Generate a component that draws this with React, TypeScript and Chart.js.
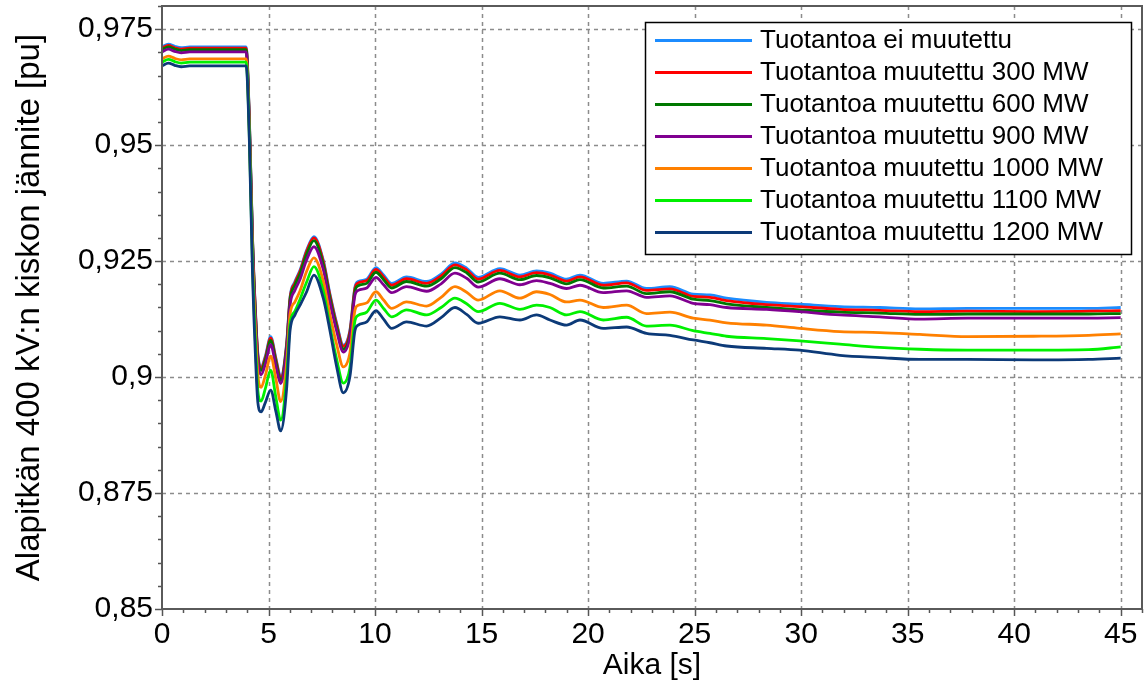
import React, { useEffect, useRef } from 'react';
import { Chart, registerables } from 'chart.js';

Chart.register(...registerables);

// Simulation time [s]
const TIME = [
  0, 0.3, 0.6, 0.9, 1.3, 2.0, 3.0, 3.95,
  4.1, 4.25, 4.4, 4.5, 4.65, 4.85, 5.1, 5.35,
  5.57, 5.85, 6.01, 6.24, 6.48, 6.79, 7.13, 7.57,
  7.88, 8.2, 8.51, 8.82, 9.06, 9.21, 9.61, 10.04,
  10.4, 10.78, 11.48, 12.42, 13.1, 13.75, 14.3, 14.84,
  15.86, 16.8, 17.58, 18.21, 18.99, 19.62, 20.71, 21.81,
  22.74, 23.84, 24.93, 25.72, 26.5, 28.38, 29.94, 31.82,
  33.69, 35.57, 37.8, 40.9, 43.5, 45,
];

// Bus voltage [pu] per production case
const V_UNCHANGED = [
  0.9712, 0.9718, 0.9713, 0.9710, 0.9712, 0.9712, 0.9712, 0.9712,
  0.956, 0.930, 0.913, 0.905, 0.9022, 0.9045, 0.9087, 0.9040,
  0.9001, 0.9073, 0.9173, 0.9206, 0.9231, 0.9274, 0.9303, 0.9252,
  0.9180, 0.9116, 0.9069, 0.9101, 0.9195, 0.9206, 0.9211, 0.9236,
  0.9220, 0.9202, 0.9216, 0.9206, 0.9222, 0.9246, 0.9235, 0.9215,
  0.9234, 0.9220, 0.9229, 0.9224, 0.9211, 0.9220, 0.9202, 0.9207,
  0.9191, 0.9195, 0.9179, 0.9177, 0.9170, 0.9161, 0.9157, 0.9152,
  0.9150, 0.9147, 0.9148, 0.9148, 0.9148, 0.9150,
];
const V_300 = [
  0.9709, 0.9715, 0.9710, 0.9707, 0.9709, 0.9709, 0.9709, 0.9709,
  0.9557, 0.9297, 0.9127, 0.9047, 0.9019, 0.9042, 0.9084, 0.9037,
  0.8998, 0.9070, 0.9170, 0.9203, 0.9228, 0.9271, 0.9300, 0.9249,
  0.9177, 0.9113, 0.9066, 0.9098, 0.9192, 0.9203, 0.9208, 0.9232,
  0.9216, 0.9198, 0.9212, 0.9202, 0.9218, 0.9242, 0.9231, 0.9211,
  0.9230, 0.9216, 0.9225, 0.9220, 0.9207, 0.9216, 0.9198, 0.9203,
  0.9187, 0.9190, 0.9174, 0.9172, 0.9165, 0.9156, 0.9152, 0.9146,
  0.9144, 0.9141, 0.9142, 0.9141, 0.9142, 0.9143,
];
const V_600 = [
  0.9706, 0.9712, 0.9707, 0.9704, 0.9706, 0.9706, 0.9706, 0.9706,
  0.9553, 0.9293, 0.9122, 0.9042, 0.9014, 0.9037, 0.9079, 0.9032,
  0.8993, 0.9065, 0.9165, 0.9198, 0.9223, 0.9265, 0.9294, 0.9243,
  0.9171, 0.9107, 0.9060, 0.9092, 0.9186, 0.9197, 0.9202, 0.9226,
  0.9210, 0.9192, 0.9206, 0.9196, 0.9212, 0.9236, 0.9225, 0.9205,
  0.9224, 0.9210, 0.9219, 0.9214, 0.9201, 0.9210, 0.9192, 0.9196,
  0.9180, 0.9184, 0.9168, 0.9165, 0.9158, 0.9150, 0.9145, 0.9140,
  0.9138, 0.9135, 0.9136, 0.9136, 0.9136, 0.9137,
];
const V_900 = [
  0.9701, 0.9707, 0.9702, 0.9699, 0.9701, 0.9701, 0.9701, 0.9701,
  0.9545, 0.9285, 0.9115, 0.9035, 0.9005, 0.9028, 0.9070, 0.9023,
  0.8986, 0.9058, 0.9155, 0.9187, 0.9211, 0.9253, 0.9281, 0.9232,
  0.9162, 0.9099, 0.9054, 0.9086, 0.9177, 0.9187, 0.9192, 0.9215,
  0.9199, 0.9182, 0.9195, 0.9185, 0.9201, 0.9224, 0.9213, 0.9194,
  0.9212, 0.9199, 0.9208, 0.9202, 0.9191, 0.9198, 0.9182, 0.9186,
  0.9172, 0.9175, 0.9159, 0.9156, 0.9150, 0.9146, 0.9141, 0.9134,
  0.9130, 0.9125, 0.9127, 0.9127, 0.9127, 0.9128,
];
const V_1000 = [
  0.9686, 0.9692, 0.9687, 0.9684, 0.9686, 0.9686, 0.9686, 0.9686,
  0.9530, 0.9260, 0.9090, 0.9005, 0.8978, 0.9003, 0.9045, 0.8995,
  0.8947, 0.9030, 0.9135, 0.9162, 0.9186, 0.9228, 0.9257, 0.9207,
  0.9135, 0.9070, 0.9022, 0.9052, 0.9145, 0.9155, 0.9160, 0.9184,
  0.9166, 0.9148, 0.9162, 0.9153, 0.9172, 0.9195, 0.9183, 0.9166,
  0.9186, 0.9170, 0.9184, 0.9178, 0.9162, 0.9166, 0.9150, 0.9155,
  0.9137, 0.9140, 0.9127, 0.9123, 0.9117, 0.9112, 0.9105, 0.9098,
  0.9096, 0.9092, 0.9087, 0.9088, 0.9090, 0.9093,
];
const V_1100 = [
  0.9679, 0.9685, 0.9680, 0.9677, 0.9679, 0.9679, 0.9679, 0.9679,
  0.9520, 0.9240, 0.9060, 0.8970, 0.8948, 0.8975, 0.9015, 0.8955,
  0.8907, 0.9000, 0.9115, 0.9142, 0.9168, 0.9205, 0.9238, 0.9186,
  0.9110, 0.9038, 0.8987, 0.9020, 0.9122, 0.9133, 0.9140, 0.9166,
  0.9148, 0.9130, 0.9145, 0.9134, 0.9150, 0.9170, 0.9158, 0.9141,
  0.9159, 0.9146, 0.9155, 0.9150, 0.9134, 0.9141, 0.9123, 0.9129,
  0.9110, 0.9112, 0.9100, 0.9094, 0.9088, 0.9083, 0.9078, 0.9071,
  0.9064, 0.9060, 0.9058, 0.9058, 0.9059, 0.9065,
];
const V_1200 = [
  0.9671, 0.9677, 0.9672, 0.9669, 0.9671, 0.9671, 0.9671, 0.9671,
  0.9510, 0.9220, 0.9030, 0.8945, 0.8925, 0.8945, 0.8972, 0.8925,
  0.8884, 0.8975, 0.9100, 0.9134, 0.9155, 0.9184, 0.9220, 0.9170,
  0.9101, 0.9022, 0.8966, 0.9001, 0.9101, 0.9112, 0.9119, 0.9143,
  0.9125, 0.9105, 0.9119, 0.9110, 0.9128, 0.9150, 0.9135, 0.9116,
  0.9130, 0.9123, 0.9134, 0.9123, 0.9112, 0.9123, 0.9105, 0.9108,
  0.9094, 0.9090, 0.9080, 0.9074, 0.9067, 0.9062, 0.9058, 0.9047,
  0.9042, 0.9038, 0.9038, 0.9037, 0.9038, 0.9041,
];

const SERIES_LABELS = [
  'Tuotantoa ei muutettu',
  'Tuotantoa muutettu 300 MW',
  'Tuotantoa muutettu 600 MW',
  'Tuotantoa muutettu 900 MW',
  'Tuotantoa muutettu 1000 MW',
  'Tuotantoa muutettu 1100 MW',
  'Tuotantoa muutettu 1200 MW',
];
const SERIES_VALUES = [V_UNCHANGED, V_300, V_600, V_900, V_1000, V_1100, V_1200];
const SERIES_COLORS = ['#1c8cff', '#ff0000', '#007800', '#800090', '#ff8000', '#00f000', '#0c3a78'];

const X_TICKS = [0, 5, 10, 15, 20, 25, 30, 35, 40, 45];
const Y_TICKS = [0.85, 0.875, 0.9, 0.925, 0.95, 0.975];
const X_MIN = 0;
const X_MAX = 46;
const Y_MIN = 0.85;
const Y_MAX = 0.98;
const X_MINOR_STEP = 1;
const Y_MINOR_STEP = 0.005;

const X_TITLE = 'Aika [s]';
const Y_TITLE = 'Alapitkän 400 kV:n kiskon jännite [pu]';

const FONT = '"Liberation Sans", Arial, sans-serif';

const axesPlugin = {
  id: 'axesDecor',
  beforeDatasetsDraw(chart: any) {
    const { ctx, chartArea, scales } = chart;
    const { left, right, top, bottom } = chartArea;
    const xs = scales.x;
    const ys = scales.y;
    ctx.save();
    // dashed grid
    ctx.strokeStyle = '#8c8c8c';
    ctx.lineWidth = 1.5;
    ctx.setLineDash([4, 4]);
    X_TICKS.forEach((v) => {
      const px = Math.round(xs.getPixelForValue(v)) + 0.5;
      if (px <= left + 2 || px >= right - 2) return;
      ctx.beginPath();
      ctx.moveTo(px, top);
      ctx.lineTo(px, bottom);
      ctx.stroke();
    });
    Y_TICKS.forEach((v) => {
      const py = Math.round(ys.getPixelForValue(v)) + 0.5;
      if (py <= top + 2 || py >= bottom - 2) return;
      ctx.beginPath();
      ctx.moveTo(left, py);
      ctx.lineTo(right, py);
      ctx.stroke();
    });
    ctx.setLineDash([]);
    // tick marks (outside)
    ctx.strokeStyle = '#555';
    ctx.lineWidth = 1.5;
    for (let v = X_MIN; v <= X_MAX + 1e-9; v += X_MINOR_STEP) {
      const px = Math.round(xs.getPixelForValue(v)) + 0.5;
      const major = X_TICKS.some((t) => Math.abs(t - v) < 1e-9);
      ctx.beginPath();
      ctx.moveTo(px, bottom);
      ctx.lineTo(px, bottom + (major ? 7 : 4));
      ctx.stroke();
    }
    const nY = Math.round((Y_MAX - Y_MIN) / Y_MINOR_STEP);
    for (let i = 0; i <= nY; i++) {
      const v = Y_MIN + i * Y_MINOR_STEP;
      const py = Math.round(ys.getPixelForValue(v)) + 0.5;
      const major = Y_TICKS.some((t) => Math.abs(t - v) < 1e-9);
      ctx.beginPath();
      ctx.moveTo(left, py);
      ctx.lineTo(left - (major ? 7 : 4), py);
      ctx.stroke();
    }
    ctx.restore();
  },
  afterDatasetsDraw(chart: any) {
    const { ctx, chartArea } = chart;
    const { left, right, top, bottom } = chartArea;
    ctx.save();
    // plot frame
    ctx.strokeStyle = '#5a5a5a';
    ctx.lineWidth = 2;
    ctx.strokeRect(left, top, right - left, bottom - top);

    // legend box
    const bx = 645;
    const by = 22;
    const bw = 486;
    const bh = 232;
    ctx.fillStyle = '#ffffff';
    ctx.fillRect(bx, by, bw, bh);
    ctx.strokeStyle = '#000000';
    ctx.lineWidth = 1.5;
    ctx.strokeRect(bx + 0.5, by + 0.5, bw, bh);
    ctx.font = `26px ${FONT}`;
    ctx.textBaseline = 'middle';
    ctx.textAlign = 'left';
    chart.data.datasets.forEach((ds: any, i: number) => {
      const cy = 40 + i * 32;
      ctx.strokeStyle = ds.borderColor;
      ctx.lineWidth = 3;
      ctx.beginPath();
      ctx.moveTo(655, cy + 0.5);
      ctx.lineTo(752, cy + 0.5);
      ctx.stroke();
      ctx.fillStyle = '#000000';
      ctx.fillText(ds.label, 760, cy + 1);
    });
    ctx.restore();
  },
};

export default function App() {
  const canvasRef = useRef<HTMLCanvasElement | null>(null);

  useEffect(() => {
    document.body.style.margin = '0';
    const canvas = canvasRef.current;
    if (!canvas) return;
    const datasets = SERIES_VALUES.map((vals, i) => ({
      label: SERIES_LABELS[i],
      data: TIME.map((t, j) => ({ x: t, y: vals[j] })),
      borderColor: SERIES_COLORS[i],
      backgroundColor: SERIES_COLORS[i],
      borderWidth: 2.8,
      pointRadius: 0,
      fill: false,
      cubicInterpolationMode: 'monotone' as const,
      order: SERIES_VALUES.length - i,
    }));

    const chart = new Chart(canvas, {
      type: 'line',
      data: { datasets },
      options: {
        animation: false,
        responsive: false,
        maintainAspectRatio: false,
        layout: { padding: { left: 0, top: 6, right: 6, bottom: 0 } },
        plugins: {
          legend: { display: false },
          tooltip: { enabled: false },
        },
        scales: {
          x: {
            type: 'linear',
            min: X_MIN,
            max: X_MAX,
            grid: { display: false },
            border: { display: false },
            afterBuildTicks: (scale: any) => {
              scale.ticks = X_TICKS.map((v) => ({ value: v }));
            },
            afterFit: (scale: any) => {
              scale.height = 79;
              scale.paddingLeft = 0;
              scale.paddingRight = 0;
            },
            ticks: {
              autoSkip: false,
              maxRotation: 0,
              padding: 0,
              color: '#000',
              font: { family: FONT, size: 30 },
              callback: (v: any) => String(v),
            },
            title: {
              display: true,
              text: X_TITLE,
              color: '#000',
              font: { family: FONT, size: 30 },
              padding: { top: 0, bottom: 4 },
            },
          },
          y: {
            type: 'linear',
            min: Y_MIN,
            max: Y_MAX,
            grid: { display: false },
            border: { display: false },
            afterBuildTicks: (scale: any) => {
              scale.ticks = Y_TICKS.map((v) => ({ value: v }));
            },
            afterFit: (scale: any) => {
              scale.width = 162;
              scale.paddingTop = 0;
              scale.paddingBottom = 0;
            },
            ticks: {
              autoSkip: false,
              padding: 1,
              color: '#000',
              font: { family: FONT, size: 30 },
              callback: (v: any) => String(Number(v)).replace('.', ','),
            },
            title: {
              display: true,
              text: Y_TITLE,
              color: '#000',
              font: { family: FONT, size: 33 },
              padding: { top: 10, bottom: 0 },
            },
          },
        },
      },
      plugins: [axesPlugin],
    });
    return () => chart.destroy();
  }, []);

  return (
    <div style={{ position: 'absolute', left: 0, top: 0, width: 1148, height: 688, background: '#fff' }}>
      <canvas ref={canvasRef} width={1148} height={688} style={{ display: 'block', width: 1148, height: 688 }} />
    </div>
  );
}
